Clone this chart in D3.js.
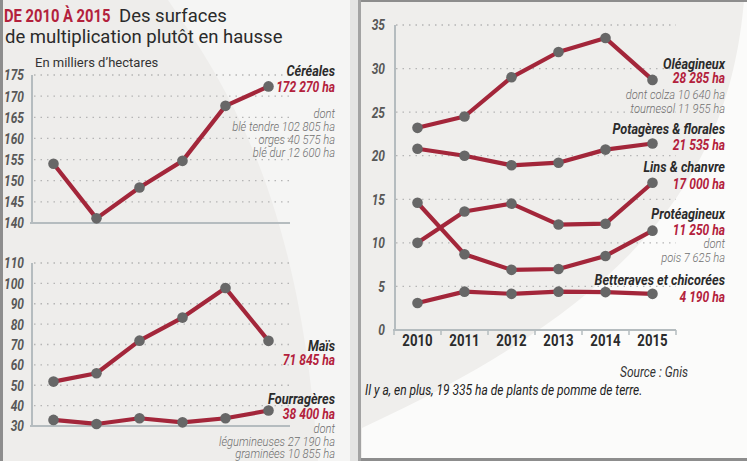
<!DOCTYPE html>
<html><head><meta charset="utf-8">
<script src="https://cdn.jsdelivr.net/npm/d3@7"></script>
<style>
html,body{margin:0;padding:0;background:#fff;}
svg{display:block;}
text{font-family:"Roboto","Open Sans",sans-serif;}
</style></head>
<body>
<svg id="c" width="747" height="461"></svg>
<script>
// ---------- DATA ----------
const years = ["2010","2011","2012","2013","2014","2015"];
const cereales     = [154.0, 141.1, 148.4, 154.7, 167.7, 172.3];
const mais         = [51.8, 55.9, 71.9, 83.2, 97.7, 71.8];
const fourrageres  = [33.0, 31.0, 33.8, 31.8, 33.8, 37.6];
const oleagineux   = [23.2, 24.5, 29.0, 31.9, 33.5, 28.7];
const potageres    = [20.8, 20.0, 18.9, 19.2, 20.7, 21.4];
const lins         = [10.0, 13.6, 14.5, 12.1, 12.2, 16.9];
const proteagineux = [14.6, 8.7, 6.9, 7.0, 8.5, 11.4];
const betteraves   = [3.1, 4.4, 4.15, 4.4, 4.35, 4.15];

const cerealTicks = [140,145,150,155,160,165,170,175];
const maisTicks   = [30,40,50,60,70,80,90,100,110];
const rightTicks  = [0,5,10,15,20,25,30,35];

const titleRed  = "DE 2010 À 2015";
const titleRest = "Des surfaces";
const titleLine2 = "de multiplication plutôt en hausse";
const unitLabel = "En milliers d’hectares";
const sourceLabel = "Source : Gnis";
const noteLabel = "Il y a, en plus, 19 335 ha de plants de pomme de terre.";

// annotation blocks: [kind, text, y]
const cerealNotes = [["t","Céréales",70],["v","172 270 ha",87],["s","dont",113],["s","blé tendre 102 805 ha",126],["s","orges 40 575 ha",139],["s","blé dur 12 600 ha",152]];
const maisNotes = [["t","Maïs",345],["v","71 845 ha",360]];
const fourNotes = [["t","Fourragères",398],["v","38 400 ha",414],["s","dont",428],["s","légumineuses 27 190 ha",441],["s","graminées 10 855 ha",453]];
const rightNotes = [["t","Oléagineux",63],["v","28 285 ha",78],["s","dont colza 10 640 ha",94],["s","tournesol 11 955 ha",108],
  ["t","Potagères & florales",128],["v","21 535 ha",145],["t","Lins & chanvre",166],["v","17 000 ha",184],
  ["t","Protéagineux",213],["v","11 250 ha",230],["s","dont",243],["s","pois 7 625 ha",257],
  ["t","Betteraves et chicorées",279],["v","4 190 ha",297]];

// ---------- STYLE ----------
const LINE = "#a3263a", DOT = "#676767", RED = "#b3213c", GRID = "#b5b5b5", AXIS = "#b5bcbf";
const SX = 0.8; // condensed look

const svg = d3.select("#c");

// backgrounds
svg.append("rect").attr("x",0).attr("y",0).attr("width",747).attr("height",461).attr("fill","#fbfbfa");
svg.append("rect").attr("x",0).attr("y",0).attr("width",357).attr("height",461).attr("fill","#eeedeb");
svg.append("path").attr("d","M168,0 C230,90 300,200 318,461 L357,461 L357,0 Z").attr("fill","#f5f5f4");
svg.append("rect").attr("x",0).attr("y",0).attr("width",3).attr("height",461).attr("fill","#8d8d8d");
svg.append("rect").attr("x",350).attr("y",0).attr("width",8).attr("height",461).attr("fill","#e4e4e3");
svg.append("rect").attr("x",358).attr("y",0).attr("width",3).attr("height",461).attr("fill","#a3a3a3");
svg.append("rect").attr("x",361).attr("y",0).attr("width",386).attr("height",461).attr("fill","#efeeec");
svg.append("path").attr("d","M744,0 C730,170 640,300 362,428 L362,461 L747,461 L747,0 Z").attr("fill","#fbfbfa");
svg.append("rect").attr("x",361).attr("y",0).attr("width",386).attr("height",2).attr("fill","#8d8d8d");
svg.append("rect").attr("x",361).attr("y",458).attr("width",386).attr("height",3).attr("fill","#8d8d8d");

function ctext(sel, x, y, sx){
  return sel.attr("x",0).attr("y",0)
    .attr("transform",(d,i)=>`translate(${typeof x==="function"?x(d,i):x},${typeof y==="function"?y(d,i):y}) scale(${typeof sx==="function"?sx(d,i):sx},1)`);
}

// title
ctext(svg.append("text"),4,22,0.82).attr("fill",RED).attr("font-weight","bold").attr("font-size",18).text(titleRed);
svg.append("text").attr("x",119).attr("y",22).attr("font-size",18.5).attr("fill","#2a2a2a").text(titleRest);
svg.append("text").attr("x",5).attr("y",43).attr("font-size",18.5).attr("fill","#2a2a2a").text(titleLine2);
svg.append("text").attr("x",35).attr("y",67).attr("font-size",13).attr("fill","#333").text(unitLabel);

// scales
const xL = d3.scaleBand().domain(years).range([32, 290]);
const yC = d3.scaleLinear().domain([140,175]).range([223, 75]);
const yM = d3.scaleLinear().domain([30,110]).range([426, 263]);
const xR = d3.scaleBand().domain(years).range([394, 676]);
const yR = d3.scaleLinear().domain([0,35]).range([330, 25]);

function grid(g, ticks, y, x0, x1, labelX){
  g.selectAll(".gl").data(ticks.slice(1)).join("line")
    .attr("x1",x0).attr("x2",x1).attr("y1",d=>y(d)).attr("y2",d=>y(d))
    .attr("stroke",GRID).attr("stroke-width",1.3).attr("stroke-dasharray","1.5,5");
  ctext(g.selectAll(".tl").data(ticks).join("text"), labelX, d=>y(d), SX)
    .attr("dy","0.36em").attr("text-anchor","end")
    .attr("font-size",15).attr("font-weight","bold").attr("font-style","italic").attr("fill","#585858")
    .text(d=>d);
}
function axes(g, y, ticks, xs, x0, x1){
  g.append("line").attr("x1",xs).attr("x2",xs).attr("y1",y(ticks[ticks.length-1])).attr("y2",y(ticks[0]))
    .attr("stroke",AXIS).attr("stroke-width",2);
  g.append("line").attr("x1",x0).attr("x2",x1).attr("y1",y(ticks[0])).attr("y2",y(ticks[0]))
    .attr("stroke",AXIS).attr("stroke-width",2);
}
function series(g, x, y, vals){
  const pts = years.map((yr,i)=>[x(yr)+x.bandwidth()/2, y(vals[i])]);
  g.append("path").attr("d",d3.line()(pts)).attr("fill","none")
    .attr("stroke",LINE).attr("stroke-width",4.2).attr("stroke-linejoin","round");
  g.selectAll(null).data(pts).join("circle").attr("cx",d=>d[0]).attr("cy",d=>d[1]).attr("r",5.3).attr("fill",DOT);
}
function notes(g, arr, xEnd){
  ctext(g.selectAll(null).data(arr).join("text"), xEnd, d=>d[2], d=>d[0]==="s"?0.86:d[0]==="t"?0.82:0.83)
    .attr("dy","0.36em").attr("text-anchor","end")
    .attr("font-style","italic")
    .attr("font-weight",d=>d[0]==="s"?300:"bold")
    .attr("font-size",d=>d[0]==="t"?15.5:d[0]==="v"?14.5:13)
    .attr("fill",d=>d[0]==="t"?"#2b2b2b":d[0]==="v"?RED:"#6f6f6f")
    .text(d=>d[1]);
}

// left top : céréales
const g1 = svg.append("g");
grid(g1, cerealTicks, yC, 34, 290, 24);
axes(g1, yC, cerealTicks, 32, 30, 290);
series(g1, xL, yC, cereales);
notes(g1, cerealNotes, 335);

// left bottom : maïs + fourragères
const g2 = svg.append("g");
grid(g2, maisTicks, yM, 34, 290, 24);
axes(g2, yM, maisTicks, 32, 30, 290);
series(g2, xL, yM, mais);
series(g2, xL, yM, fourrageres);
notes(g2, maisNotes, 335);
notes(g2, fourNotes, 335);

// right chart
const g3 = svg.append("g");
grid(g3, rightTicks, yR, 396, 676, 385);
axes(g3, yR, rightTicks, 395, 393, 676);
const xAx = g3.append("g").attr("transform","translate(0,330)")
  .call(d3.axisBottom(xR).tickSize(0).tickPadding(10));
xAx.select(".domain").remove();
xAx.selectAll(".tick text").attr("font-size",16.5).attr("font-weight","bold").attr("fill","#2b2b2b")
  .attr("transform","scale(0.8,1)").attr("y",16).attr("dy","0")
  .style("font-family",'"Roboto",sans-serif');
g3.selectAll(".xt").data(years.concat(["end"])).join("line")
  .attr("x1",(d,i)=>i<years.length?xR(d):xR.range()[1]).attr("x2",(d,i)=>i<years.length?xR(d):xR.range()[1])
  .attr("y1",330).attr("y2",335).attr("stroke",AXIS).attr("stroke-width",1.5);
[oleagineux, potageres, lins, proteagineux, betteraves].forEach(v=>series(g3, xR, yR, v));
notes(g3, rightNotes, 725);

ctext(svg.append("text"),688,372,SX).attr("dy","0.36em").attr("text-anchor","end")
  .attr("font-size",15).attr("font-style","italic").attr("fill","#333").text(sourceLabel);
ctext(svg.append("text"),365,390,SX).attr("dy","0.36em")
  .attr("font-size",15).attr("font-style","italic").attr("fill","#222").text(noteLabel);
</script>
</body></html>
